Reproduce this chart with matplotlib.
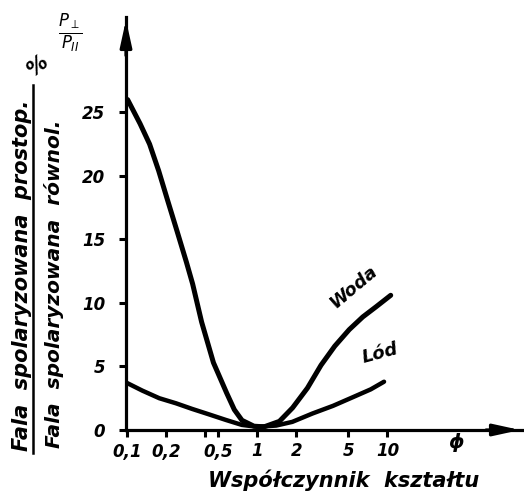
import matplotlib
matplotlib.use("Agg")
import matplotlib.pyplot as plt

# shape factor (x) and polarised-light ratio in % (y)
woda_x = [0.101, 0.126, 0.149, 0.175, 0.206, 0.243, 0.286, 0.319, 0.374, 0.461, 0.583,
          0.667, 0.764, 0.944, 1.13, 1.48, 1.87, 2.43, 3.09, 3.94, 5.09, 6.47, 8.19, 10.6]
woda_y = [26.0, 24.1, 22.5, 20.4, 18.0, 15.6, 13.2, 11.5, 8.5, 5.3, 2.9,
          1.6, 0.76, 0.3, 0.25, 0.68, 1.75, 3.3, 5.1, 6.6, 7.9, 8.9, 9.7, 10.6]
lod_x = [0.1, 0.131, 0.177, 0.238, 0.316, 0.426, 0.575, 0.762, 1.0, 1.4, 1.86, 2.66,
         3.82, 5.48, 7.45, 9.42]
lod_y = [3.7, 3.1, 2.5, 2.1, 1.66, 1.23, 0.79, 0.4, 0.25, 0.35, 0.64, 1.3,
         1.9, 2.6, 3.2, 3.8]

xticks = [0.1, 0.2, 0.4, 0.5, 1, 2, 5, 10]
xticklabels = ["0,1", "0,2", "", "0,5", "1", "2", "5", "10"]
yticks = [0, 5, 10, 15, 20, 25]

font = dict(family="DejaVu Sans", weight="bold", style="italic")

fig = plt.figure(figsize=(5.24, 5.0), dpi=100)
ax = fig.add_axes([126 / 524, 70 / 500, 397 / 524, 413 / 500])

ax.plot(woda_x, woda_y, color="black", lw=3.6, solid_capstyle="round", solid_joinstyle="round")
ax.plot(lod_x, lod_y, color="black", lw=3.2, solid_capstyle="round", solid_joinstyle="round")

ax.set_xscale("log")
ax.set_xlim(0.0982, 110)
ax.set_ylim(0, 32.5)

for s in ["top", "right"]:
    ax.spines[s].set_visible(False)
for s in ["left", "bottom"]:
    ax.spines[s].set_linewidth(2.3)

ax.set_xticks(xticks)
ax.set_xticklabels(xticklabels, **font, fontsize=12)
ax.xaxis.set_minor_locator(plt.NullLocator())
ax.set_yticks(yticks)
ax.set_yticklabels([str(v) for v in yticks], **font, fontsize=12)
ax.tick_params(axis="both", length=5, width=2.2, direction="out")
ax.tick_params(axis="y", pad=10)
ax.tick_params(axis="x", pad=4)

# arrow heads on both axes
arrow = dict(arrowstyle="-|>,head_length=1.6,head_width=0.35", color="black", lw=2.3)
ax.annotate("", xy=(0, 1.0), xytext=(0, 0.9), xycoords="axes fraction", arrowprops=arrow)
ax.annotate("", xy=(1.0, 0), xytext=(0.9, 0), xycoords="axes fraction", arrowprops=arrow)

ax.text(10 ** 1.53, -0.03, "ϕ", transform=ax.get_xaxis_transform(), ha="center",
        va="center", fontsize=14, **font)

ax.text(353 / 524, 1 - 287 / 500, "Woda", transform=fig.transFigure, rotation=40,
        ha="center", va="center", fontsize=13, **font)
ax.text(380 / 524, 1 - 353 / 500, "Lód", transform=fig.transFigure, rotation=15,
        ha="center", va="center", fontsize=13, **font)

fig.text(344 / 524, 1 - 480 / 500, "Współczynnik  kształtu", ha="center", va="center",
         fontsize=15, **font)

# y label drawn as a fraction
fig.text(22 / 524, 1 - 275 / 500, "Fala  spolaryzowana  prostop.", rotation=90,
         ha="center", va="center", fontsize=15, **font)
fig.text(54 / 524, 1 - 284 / 500, "Fala  spolaryzowana  równol.", rotation=90,
         ha="center", va="center", fontsize=14.5, **font)
fig.add_artist(plt.Line2D([33 / 524, 33 / 524], [1 - 85 / 500, 1 - 453 / 500],
                          color="black", lw=1.8, transform=fig.transFigure))
fig.text(38 / 524, 1 - 66 / 500, "%", rotation=40, ha="center", va="center",
         fontsize=15, **font)
fig.text(70 / 524, 1 - 33 / 500, r"$\frac{P_{\perp}}{P_{II}}$", ha="center",
         va="center", fontsize=17)

fig.savefig("out.png", dpi=100)
